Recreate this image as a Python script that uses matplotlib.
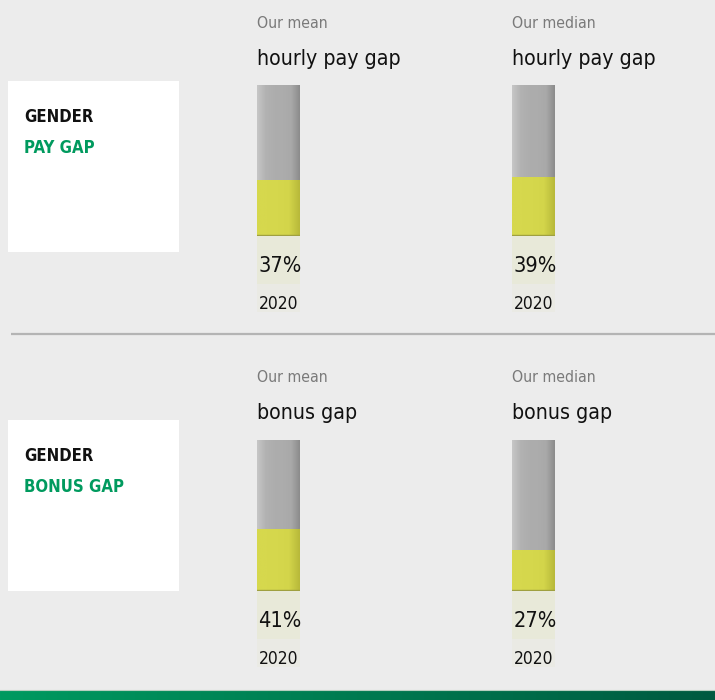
import numpy as np
import matplotlib
matplotlib.use("Agg")
from matplotlib import pyplot as plt
from matplotlib.patches import Rectangle
from matplotlib.colors import LinearSegmentedColormap
from matplotlib.font_manager import findfont, FontProperties

#--------------------------------------------------------------------------#
# data
#--------------------------------------------------------------------------#

section_titles = ['PAY GAP', 'BONUS GAP']
stat_names = ['Our mean', 'Our median']
gap_names = ['hourly pay gap', 'bonus gap']
gap_values = [[37, 39], [41, 27]]
years = ['2020', '2020']

#--------------------------------------------------------------------------#
# fonts - use a condensed face if there is one
#--------------------------------------------------------------------------#

plt.rcParams['font.family'] = ['DejaVu Sans']
cond_file = findfont(FontProperties(family='DejaVu Sans', stretch='condensed'))
if 'Condensed' in cond_file:
    plt.rcParams['font.stretch'] = 'condensed'
    k = 1.11
else:
    k = 1.0

fs_small = 10.2 * k
fs_big = 13.8 * k
fs_title = 10.8 * k
fs_pct = 14.0 * k
fs_year = 11.3 * k

#--------------------------------------------------------------------------#
# layout (pixel coords, y from top)
#--------------------------------------------------------------------------#

W, H = 715, 700
BG = '#ececec'
GREEN = '#009a5e'
col_x = [257, 512]
bar_w = 43
row_bar_top = [85, 440]
bar_h = 151
row_text = [0, 354]
row_box = [0, 339]

gray_cmap = LinearSegmentedColormap.from_list(
    'g', ['#c6c6c6', '#b2b2b2', '#adadad', '#acacac', '#a9a9a9', '#8c8c8c'])
yellow_cmap = LinearSegmentedColormap.from_list(
    'y', ['#d6d84d', '#d6d84d', '#d5d74c', '#d3d54a', '#b8b93a'])

fig = plt.figure(figsize=(W / 100, H / 100), dpi=100, facecolor=BG)
ax = fig.add_axes([0, 0, 1, 1])
ax.set_xlim(0, W)
ax.set_ylim(H, 0)
ax.axis('off')

# separator and green footer
ax.plot([11, W], [334, 334], color='#b4b4b4', lw=1.6, solid_capstyle='butt')
footer = np.linspace(0, 1, 256).reshape(1, -1)
ax.imshow(footer, extent=(0, W, 700, 690), aspect='auto',
          cmap=LinearSegmentedColormap.from_list('f', ['#009a60', '#007a50', '#005a40']),
          zorder=2)
ax.plot([0, W], [689.5, 689.5], color='#b9cfc0', lw=0.8)

grad = np.linspace(0, 1, 64).reshape(1, -1)

for r in range(2):
    # white label box
    by = 81 + row_box[r]
    ax.add_patch(Rectangle((8, by), 171, 171, facecolor='white', edgecolor='none'))
    ax.text(24, 122 + row_box[r], 'GENDER', fontsize=fs_title, fontweight='bold',
            color='#111111', va='baseline')
    ax.text(24, 153 + row_box[r], section_titles[r], fontsize=fs_title, fontweight='bold',
            color=GREEN, va='baseline')

    for c in range(2):
        x0 = col_x[c]
        ty = row_text[r]
        ax.text(x0, 28 + ty, stat_names[c], fontsize=fs_small, color='#7a7a7a', va='baseline')
        ax.text(x0, 65 + ty, gap_names[r], fontsize=fs_big, color='#111111', va='baseline')

        # light panel under the bar
        top = row_bar_top[r]
        ax.add_patch(Rectangle((x0, top + bar_h), bar_w, 48,
                               facecolor='#e8e9d9', edgecolor='none'))
        ax.add_patch(Rectangle((x0, top + bar_h + 48), bar_w, 28,
                               facecolor='#eaeae4', edgecolor='none'))

        ax.text(x0 + bar_w / 2 + 1.5, top + bar_h + 36, f'{gap_values[r][c]}%',
                fontsize=fs_pct, color='#111111', ha='center', va='baseline')
        ax.text(x0 + bar_w / 2, top + bar_h + 73, years[r], fontsize=fs_year,
                color='#111111', ha='center', va='baseline')

        # the bar itself, 0-100 %
        bax = fig.add_axes([x0 / W, (H - top - bar_h) / H, bar_w / W, bar_h / H])
        v = gap_values[r][c]
        bax.imshow(grad, extent=(-0.5, 0.5, v, 100), aspect='auto', cmap=gray_cmap)
        bax.imshow(grad, extent=(-0.5, 0.5, 0, v), aspect='auto', cmap=yellow_cmap)
        bax.bar(0, v, width=1, color='none', edgecolor='none')
        bax.axhline(0.4, color='#9fa040', lw=1)
        bax.set_xlim(-0.5, 0.5)
        bax.set_ylim(0, 100)
        bax.axis('off')

fig.savefig('out.png', dpi=100, facecolor=BG)
